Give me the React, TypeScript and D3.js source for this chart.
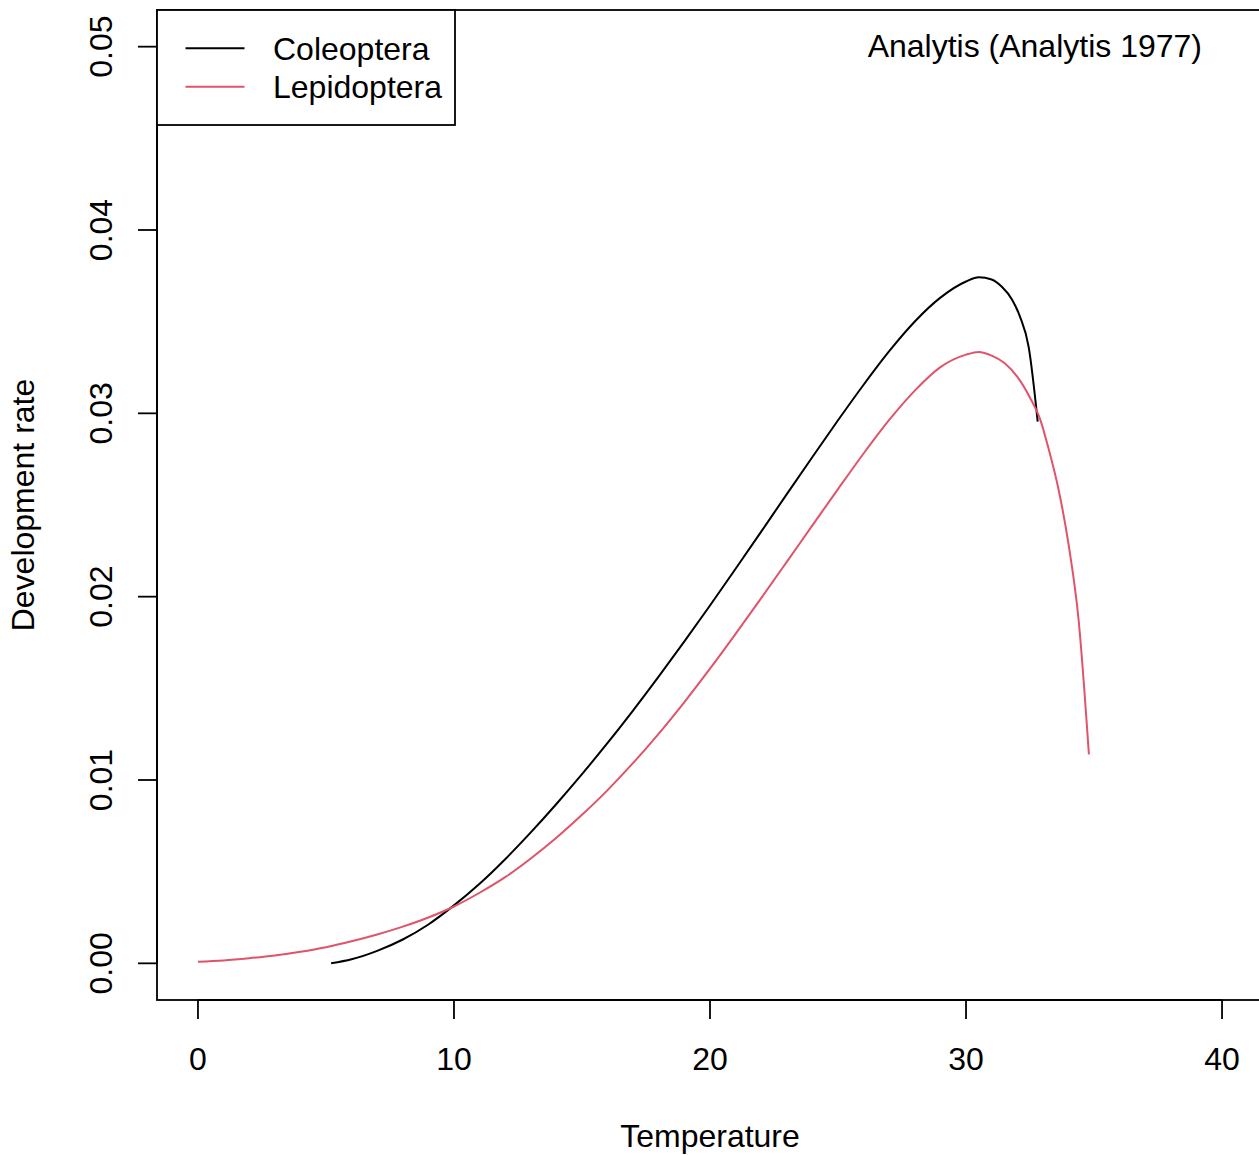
import React from "react";
import * as d3 from "d3";

const coleopteraTemp = [5.2, 6, 7, 8, 9, 10, 11, 12, 13, 14, 15, 16, 17, 18, 19, 20, 21, 22, 23, 24, 25, 26, 27, 28, 29, 30, 30.5, 31, 31.4, 31.8, 32.1, 32.45, 32.8];
const coleopteraRate = [0, 0.00022, 0.00068, 0.0013, 0.00212, 0.00316, 0.00434, 0.00568, 0.00714, 0.00869, 0.01032, 0.01202, 0.0138, 0.01565, 0.01756, 0.01952, 0.02152, 0.02355, 0.02559, 0.02762, 0.02962, 0.03156, 0.03339, 0.03501, 0.03631, 0.03719, 0.03742, 0.0373, 0.0369, 0.0362, 0.0353, 0.0336, 0.02955];

const lepidopteraTemp = [0, 1, 2, 3, 4, 5, 6, 7, 8, 9, 10, 11, 12, 13, 14, 15, 16, 17, 18, 19, 20, 21, 22, 23, 24, 25, 26, 27, 28, 29, 30, 30.5, 31, 31.5, 32, 32.5, 32.9, 33.2, 33.6, 34.0, 34.4, 34.8];
const lepidopteraRate = [0.00009, 0.00016, 0.00028, 0.00043, 0.00063, 0.00088, 0.0012, 0.00157, 0.002, 0.0025, 0.0031, 0.00385, 0.0047, 0.00572, 0.00685, 0.0081, 0.00945, 0.01093, 0.01253, 0.01425, 0.01607, 0.01797, 0.01992, 0.0219, 0.02389, 0.02587, 0.02781, 0.02964, 0.03124, 0.03252, 0.0332, 0.03335, 0.03315, 0.03275, 0.032, 0.03085, 0.02966, 0.0282, 0.02594, 0.0229, 0.0187, 0.0114];

const xTicks = [0, 10, 20, 30, 40];
const yTicks = [0, 0.01, 0.02, 0.03, 0.04, 0.05];
const seriesNames = ["Coleoptera", "Lepidoptera"];
const seriesColors = ["#000000", "#DF536B"];

const W = 1259;
const H = 1155;
const FONT = "'Liberation Sans', Arial, Helvetica, sans-serif";
const FS = 32;

export default function App() {
  const x = d3.scaleLinear().domain([-1.6, 41.6]).range([157, 1263]);
  const y = d3.scaleLinear().domain([-0.002, 0.052]).range([1000, 10]);
  const line = d3
    .line<[number, number]>()
    .x((d) => x(d[0]))
    .y((d) => y(d[1]))
    .curve(d3.curveMonotoneX);

  const series = [
    coleopteraTemp.map((t, i) => [t, coleopteraRate[i]] as [number, number]),
    lepidopteraTemp.map((t, i) => [t, lepidopteraRate[i]] as [number, number]),
  ];

  const fmtY = (v: number) => v.toFixed(2);

  return (
    <svg
      width={W}
      height={H}
      style={{ position: "absolute", left: 0, top: 0, background: "#fff" }}
      fontFamily={FONT}
    >
      <rect x={0} y={0} width={W} height={H} fill="#fff" />
      {series.map((s, i) => (
        <path key={i} d={line(s) || ""} fill="none" stroke={seriesColors[i]} strokeWidth={2} />
      ))}
      <rect x={157} y={10} width={1263 - 157} height={990} fill="none" stroke="#000" strokeWidth={1.8} />
      <line x1={x(0)} x2={x(40)} y1={1000} y2={1000} stroke="#000" strokeWidth={1.8} />
      {xTicks.map((t) => (
        <g key={t}>
          <line x1={x(t)} x2={x(t)} y1={1000} y2={1019} stroke="#000" strokeWidth={1.8} />
          <text x={x(t)} y={1070} textAnchor="middle" fontSize={FS}>
            {t}
          </text>
        </g>
      ))}
      <text x={x(20)} y={1147} textAnchor="middle" fontSize={FS}>
        Temperature
      </text>
      <line x1={157} x2={157} y1={y(0)} y2={y(0.05)} stroke="#000" strokeWidth={1.8} />
      {yTicks.map((t) => (
        <g key={t}>
          <line x1={138} x2={157} y1={y(t)} y2={y(t)} stroke="#000" strokeWidth={1.8} />
          <text
            transform={`translate(111.5,${y(t)}) rotate(-90)`}
            textAnchor="middle"
            fontSize={FS}
          >
            {fmtY(t)}
          </text>
        </g>
      ))}
      <text transform={`translate(33.5,505) rotate(-90)`} textAnchor="middle" fontSize={FS}>
        Development rate
      </text>
      <rect x={157} y={10} width={298} height={115} fill="#fff" stroke="#000" strokeWidth={1.8} />
      {seriesNames.map((n, i) => (
        <g key={n}>
          <line x1={185.5} x2={244.5} y1={48.3 + i * 38.4} y2={48.3 + i * 38.4} stroke={seriesColors[i]} strokeWidth={2} />
          <text x={273} y={59.8 + i * 38.4} fontSize={FS}>
            {n}
          </text>
        </g>
      ))}
      <text x={1202} y={56.5} textAnchor="end" fontSize={FS}>
        Analytis (Analytis 1977)
      </text>
    </svg>
  );
}
